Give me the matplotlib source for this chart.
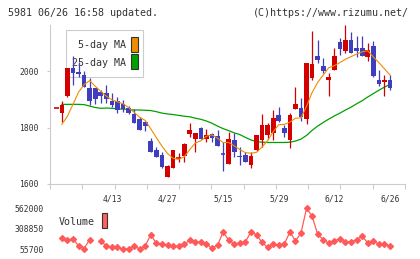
import numpy as np
import matplotlib
matplotlib.use('Agg')
import matplotlib.pyplot as plt
from matplotlib.patches import Rectangle

plt.rcParams['font.family'] = ['DejaVu Sans Mono']

nan = np.nan

#%% data (index 0 = first bar)

opens = [1868, 1852, 1911, 2009, 1995, 1985, 1939, 1939, 1927, 1921,
         1894, 1894, 1883, 1868, 1847, 1830, 1818, 1752, 1720, 1703,
         1626, 1658, 1692, 1699, 1777, 1759, 1799, 1759, 1777, 1770,
         1707, 1671, 1755, 1699, 1703, 1667, 1720, 1755, 1773, 1779,
         1846, 1800, 1756, 1864, 1868, 1830, 1974, 2053, 2018, 1968,
         2004, 2104, 2071, 2110, 2080, 2080, 2051, 2089, 1970, 1962,
         1968]
highs = [1868, 1894, 2010, 2053, 2033, 2000, 1974, 1940, 1933, 1950,
         1923, 1909, 1897, 1876, 1864, 1838, 1823, 1764, 1732, 1714,
         1667, 1720, 1711, 1746, 1815, 1781, 1803, 1793, 1781, 1790,
         1748, 1784, 1779, 1732, 1714, 1714, 1775, 1848, 1815, 1862,
         1871, 1809, 1850, 1944, 1903, 2030, 2142, 2110, 2045, 1992,
         2080, 2116, 2163, 2139, 2125, 2125, 2098, 2107, 2004, 1985,
         1985]
lows = [1868, 1821, 1908, 1950, 1978, 1943, 1880, 1882, 1886, 1886,
        1871, 1850, 1856, 1848, 1815, 1790, 1789, 1714, 1697, 1658,
        1626, 1655, 1679, 1679, 1765, 1712, 1759, 1747, 1747, 1734,
        1645, 1671, 1695, 1667, 1679, 1655, 1718, 1732, 1761, 1756,
        1820, 1767, 1729, 1864, 1824, 1811, 1968, 2027, 1992, 1911,
        2004, 2057, 2063, 2063, 2051, 2053, 2037, 1980, 1947, 1910,
        1932]
closes = [1868, 1880, 2009, 1994, 1988, 1945, 1895, 1900, 1913, 1900,
          1880, 1862, 1864, 1850, 1815, 1791, 1805, 1714, 1697, 1661,
          1664, 1720, 1694, 1742, 1791, 1781, 1759, 1773, 1764, 1734,
          1705, 1759, 1714, 1696, 1679, 1699, 1773, 1809, 1809, 1835,
          1824, 1779, 1846, 1883, 1836, 2030, 2025, 2039, 2001, 1978,
          2053, 2078, 2110, 2063, 2071, 2053, 2074, 1982, 1953, 1968,
          1941]

ma5 = [nan, 1811, 1840, 1882, 1925, 1952, 1966, 1946, 1928, 1911,
       1898, 1891, 1884, 1871, 1854, 1836, 1825, 1795, 1764, 1734,
       1708, 1691, 1687, 1696, 1722, 1745, 1753, 1769, 1774, 1762,
       1747, 1747, 1735, 1722, 1711, 1709, 1712, 1731, 1754, 1785,
       1810, 1811, 1819, 1833, 1834, 1875, 1924, 1960, 1986, 2012,
       2019, 2030, 2042, 2051, 2060, 2068, 2072, 2050, 2030, 2008,
       1986]
ma25 = [nan, 1882, 1882, 1882, 1882, 1881, 1876, 1871, 1868, 1869,
        1868, 1866, 1865, 1864, 1862, 1862, 1861, 1860, 1856, 1851,
        1848, 1846, 1843, 1840, 1838, 1833, 1829, 1823, 1815, 1805,
        1796, 1789, 1781, 1775, 1765, 1756, 1750, 1748, 1747, 1747,
        1747, 1747, 1748, 1752, 1759, 1772, 1790, 1805, 1818, 1830,
        1841, 1851, 1862, 1872, 1884, 1895, 1908, 1920, 1932, 1943,
        1953]

volume = [nan, 196000, 168000, 188000, 96000, 64000, 176000, nan, 160000, 96000,
          80000, 80000, 55700, 64000, 96000, 60000, 100000, 236000, 128000, 116000,
          108000, 96000, 96000, 116000, 168000, 148000, 140000, 120000, 68000, 108000,
          269000, 168000, 120000, 136000, 148000, 269000, 236000, 140000, 80000, 120000,
          108000, 120000, 269000, 160000, 257000, 562000, 465000, 240000, 176000, 128000,
          160000, 188000, 148000, 148000, 176000, 216000, 136000, 160000, 120000, 120000,
          96000]

date_pos = [10, 20, 30, 40, 50, 60]
date_labels = ['4/13', '4/27', '5/15', '5/29', '6/12', '6/26']
price_ticks = [1600, 1800, 2000]
vol_ticks = [55700, 308850, 562000]

UP = '#d40000'
DOWN = '#3e3ebf'
GRID = '#cccccc'
TXT = '#333333'

W, H = 420, 259
def fx(px): return px / W
def fy(py): return 1 - py / H

fig = plt.figure(figsize=(4.2, 2.59), dpi=100)
ax = fig.add_axes([fx(50), fy(184), fx(355), 159 / H])
vax = fig.add_axes([fx(50), fy(249.3), fx(355), 41 / H])

xlo, xhi = -1.13, 62.7
n = len(closes)
x = np.arange(n)
o = np.array(opens); c = np.array(closes)
hi = np.array(highs); lo = np.array(lows)

#%% candles
bw = 0.84
for i in range(n):
    col = UP if c[i] >= o[i] else DOWN
    ax.vlines(x[i], lo[i], hi[i], color=col, lw=0.9, zorder=3)
    bot = min(o[i], c[i])
    h = abs(c[i] - o[i])
    if h < 3:
        ax.hlines((o[i] + c[i]) / 2, x[i] - bw / 2, x[i] + bw / 2, color=col, lw=1.2, zorder=3)
    else:
        ax.add_patch(Rectangle((x[i] - bw / 2, bot), bw, h, facecolor=col,
                               edgecolor='none', zorder=3))

ax.plot(x, ma5, color='#f08c00', lw=0.8, zorder=4)
ax.plot(x, ma25, color='#00a000', lw=0.9, zorder=2.5)

ax.set_xlim(xlo, xhi)
ax.set_ylim(1600, 2163)
for s in ['top', 'right']:
    ax.spines[s].set_visible(False)
for s in ['left', 'bottom']:
    ax.spines[s].set_color(GRID)
    ax.spines[s].set_linewidth(0.8)

ax.set_xticks(np.linspace(xlo, xhi, 12))
ax.set_xticklabels([])
ax.set_xticks(date_pos, minor=True)
ax.set_xticklabels(date_labels, minor=True)
ax.tick_params(axis='x', which='major', length=3.6, color=GRID, width=0.8)
ax.tick_params(axis='x', which='minor', length=0, pad=7.5, labelsize=5.8, labelcolor=TXT)
ax.set_yticks(price_ticks)
ax.set_yticklabels([str(t) for t in price_ticks])
ax.tick_params(axis='y', length=2.2, color=GRID, width=0.8, pad=5.8,
               labelsize=5.8, labelcolor=TXT)

# legend box (drawn under the candles)
ax.add_patch(Rectangle((fx(65.5), fy(77.3)), fx(143.3 - 65.5), (77.3 - 30) / H,
                       transform=fig.transFigure, facecolor='white', edgecolor=GRID,
                       lw=0.8, zorder=1, clip_on=False))
ax.text(fx(125.5), fy(45.5), '5-day MA', transform=fig.transFigure, ha='right',
        va='center', fontsize=7.2, color=TXT, zorder=1.5)
ax.text(fx(125.5), fy(62.5), '25-day MA', transform=fig.transFigure, ha='right',
        va='center', fontsize=7.2, color=TXT, zorder=1.5)
ax.add_patch(Rectangle((fx(131), fy(52.3)), fx(6.7), 15 / H, transform=fig.transFigure,
                       facecolor='#f08c00', edgecolor='#333333', lw=0.8, zorder=1.5,
                       clip_on=False))
ax.add_patch(Rectangle((fx(131), fy(69.3)), fx(6.7), 15 / H, transform=fig.transFigure,
                       facecolor='#00a000', edgecolor='#333333', lw=0.8, zorder=1.5,
                       clip_on=False))

#%% volume
vax.plot(x, volume, color='#ff5a5a', lw=0.9, marker='D', ms=3.0, mec='#ff5a5a',
         clip_on=False)
vax.set_xlim(xlo, xhi)
vax.set_ylim(55700, 562000)
for s in vax.spines.values():
    s.set_visible(False)
vax.set_xticks([])
vax.set_yticks(vol_ticks)
vax.set_yticklabels([str(t) for t in vol_ticks])
vax.tick_params(axis='y', length=0, pad=4.3, labelsize=5.8, labelcolor=TXT)
vax.patch.set_alpha(0)

fig.text(fx(59), fy(222), 'Volume', ha='left', va='center', fontsize=7.2, color=TXT)
fig.patches.append(Rectangle((fx(101.7), fy(228)), fx(5.6), 15 / H,
                             transform=fig.transFigure, facecolor='#ff6060',
                             edgecolor='#333333', lw=0.8))

#%% header
fig.text(fx(8), fy(12.5), '5981 06/26 16:58 updated.', ha='left', va='center',
         fontsize=7.2, color=TXT)
fig.text(fx(409), fy(12.5), '(C)https://www.rizumu.net/', ha='right', va='center',
         fontsize=7.2, color=TXT)

fig.savefig('out.png', dpi=100)
